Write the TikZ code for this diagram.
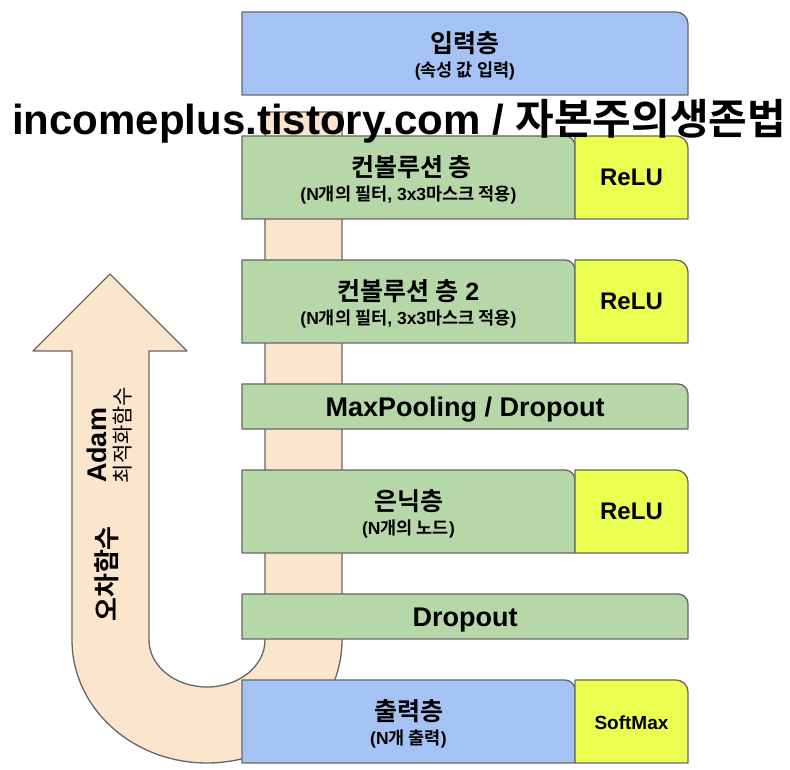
\documentclass[tikz,border=0pt]{standalone}
\usepackage{fontspec}
\setmainfont{Liberation Sans}
\newfontfamily\kr{Noto Sans CJK KR}[BoldFont={Noto Sans CJK KR Bold}]
\definecolor{inblue}{HTML}{A4C2F4}
\definecolor{lgreen}{HTML}{B6D7A8}
\definecolor{lyellow}{HTML}{EBFF50}
\definecolor{beige}{HTML}{FCE5CD}
\definecolor{edgegray}{HTML}{666666}
\pgfdeclarelayer{bottom}
\pgfdeclarelayer{background}
\pgfsetlayers{bottom,background,main}
\tikzset{
  slot/.style={inner sep=0pt, outer sep=0pt, draw=none},
  ttl/.style={font=\fontsize{25}{29}\selectfont\bfseries, inner sep=0pt},
  relut/.style={font=\fontsize{24}{28}\selectfont\bfseries, inner sep=0pt},
  subt/.style={font=\fontsize{17.5}{20}\selectfont\bfseries, inner sep=0pt},
  bigt/.style={font=\fontsize{27}{31}\selectfont\bfseries, inner sep=0pt},
  outline/.style={draw=edgegray, line width=1.3pt, line join=round},
}
\newcommand\drawslab[3]{%
  \begin{pgfonlayer}{background}
  \path[outline, fill=#2] (#1.south west) -- (#1.north west) -- ([xshift=-#3pt]#1.north east)
     arc[start angle=90, end angle=0, radius=#3pt] -- (#1.south east) -- cycle;
  \end{pgfonlayer}}
\begin{document}
\begin{tikzpicture}[x=1pt,y=1pt]
\useasboundingbox (0,0) rectangle (790,770);

% U-shaped arrow
\begin{pgfonlayer}{bottom}
\path[outline, fill=beige] (265,658) -- (342,658) -- (342,130)
  arc[start angle=0, end angle=-180, x radius=135pt, y radius=123pt]
  -- (72,419) -- (33,419) -- (110,496) -- (187,419) -- (149,419) -- (149,130)
  arc[start angle=180, end angle=360, x radius=58pt, y radius=47pt] -- cycle;
\end{pgfonlayer}

% box slots
\node[slot, minimum width=446pt, minimum height=83pt] (inp)   at (465,716.5) {};
\node[slot, minimum width=333pt, minimum height=83pt] (conv1) at (408.5,592.5) {};
\node[slot, minimum width=113pt, minimum height=83pt] (relu1) at (631.5,592.5) {};
\node[slot, minimum width=333pt, minimum height=83pt] (conv2) at (408.5,468.5) {};
\node[slot, minimum width=113pt, minimum height=83pt] (relu2) at (631.5,468.5) {};
\node[slot, minimum width=446pt, minimum height=45pt] (pool)  at (465,363.5) {};
\node[slot, minimum width=333pt, minimum height=83pt] (hid)   at (408.5,258.5) {};
\node[slot, minimum width=113pt, minimum height=83pt] (relu3) at (631.5,258.5) {};
\node[slot, minimum width=446pt, minimum height=45pt] (drop)  at (465,153.5) {};
\node[slot, minimum width=333pt, minimum height=83pt] (outl)  at (408.5,48.5) {};
\node[slot, minimum width=113pt, minimum height=83pt] (soft)  at (631.5,48.5) {};

\drawslab{inp}{inblue}{12}
\drawslab{conv1}{lgreen}{10}
\drawslab{relu1}{lyellow}{12}
\drawslab{conv2}{lgreen}{10}
\drawslab{relu2}{lyellow}{12}
\drawslab{pool}{lgreen}{10}
\drawslab{hid}{lgreen}{10}
\drawslab{relu3}{lyellow}{12}
\drawslab{drop}{lgreen}{10}
\drawslab{outl}{inblue}{10}
\drawslab{soft}{lyellow}{12}

% texts
\node[ttl]  (inpT)   at ([yshift=10.5pt]inp.center) {\kr 입력층};
\node[subt] (inpS)   at ([yshift=-17.5pt]inp.center) {({\kr 속성 값 입력})};
\node[ttl]  (conv1T) at ([xshift=3pt,yshift=10.5pt]conv1.center) {\kr 컨볼루션 층};
\node[subt] (conv1S) at ([yshift=-17.5pt]conv1.center) {(N{\kr 개의 필터}, 3x3{\kr 마스크 적용})};
\node[ttl]  (conv2T) at ([yshift=10.5pt]conv2.center) {{\kr 컨볼루션 층} 2};
\node[subt] (conv2S) at ([yshift=-17.5pt]conv2.center) {(N{\kr 개의 필터}, 3x3{\kr 마스크 적용})};
\node[ttl]  (hidT)   at ([yshift=10.5pt]hid.center) {\kr 은닉층};
\node[subt] (hidS)   at ([yshift=-17.5pt]hid.center) {(N{\kr 개의 노드})};
\node[ttl]  (outT)   at ([yshift=10.5pt]outl.center) {\kr 출력층};
\node[subt] (outS)   at ([yshift=-17.5pt]outl.center) {(N{\kr 개 출력})};

\node[relut, anchor=base] (relu1T) at ([yshift=-8.5pt]relu1.center) {ReLU};
\node[relut, anchor=base] (relu2T) at ([yshift=-8.5pt]relu2.center) {ReLU};
\node[relut, anchor=base] (relu3T) at ([yshift=-8.5pt]relu3.center) {ReLU};
\node[anchor=base, inner sep=0pt, font=\fontsize{19}{22}\selectfont\bfseries] (softT) at ([yshift=-8.3pt]soft.center) {SoftMax};
\node[bigt, anchor=base] (poolT) at (465,353) {MaxPooling / Dropout};
\node[bigt, anchor=base] (dropT) at (465,143) {Dropout};

% arrow labels
\node[rotate=90, inner sep=0pt, font=\fontsize{27}{30}\selectfont\bfseries] (adam) at (97,324.5) {Adam};
\node[rotate=90, inner sep=0pt, font=\fontsize{21}{24}\selectfont] (optim) at (123,335) {\kr 최적화함수};
\node[rotate=90, inner sep=0pt, font=\fontsize{26}{30}\selectfont\bfseries] (loss) at (107,196) {\kr 오차함수};

% watermark
\node[anchor=base west, inner sep=0pt, font=\fontsize{42}{48}\selectfont\bfseries] (wm) at (12,635) {incomeplus.tistory.com / {\kr 자본주의생존법}};
\end{tikzpicture}
\end{document}
